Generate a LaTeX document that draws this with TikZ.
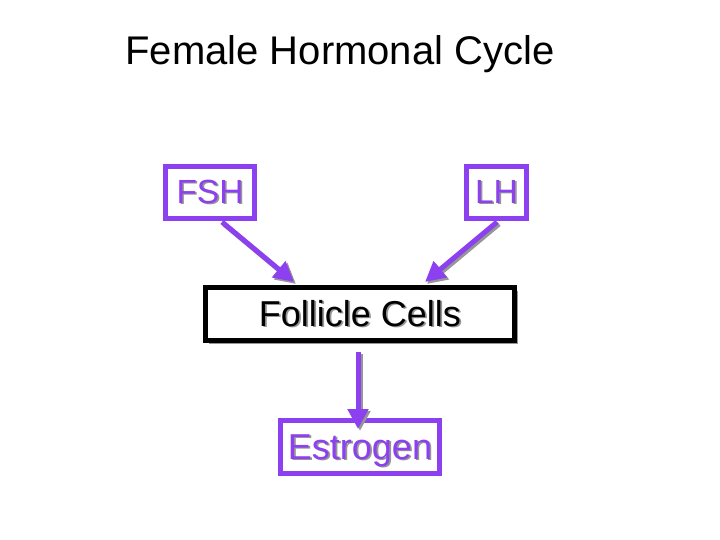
\documentclass[tikz,border=0pt]{standalone}
\usepackage{fontspec}
\setmainfont{Liberation Sans}
\usetikzlibrary{arrows.meta,shadows}
\definecolor{hpurple}{RGB}{140,64,240}
\definecolor{shade}{RGB}{150,150,150}
\newcommand{\shtext}[2]{\makebox[0pt][l]{\raisebox{-1.6pt}{\hspace{1.6pt}\color{shade}#2}}{\color{#1}#2}}
\tikzset{
  pbox/.style={draw=hpurple, line width=5pt, fill=white, inner sep=0pt},
  bbox/.style={draw=black, line width=5pt, fill=white, inner sep=0pt,
    drop shadow={shadow xshift=3pt, shadow yshift=-3pt, fill=shade, opacity=1}},
  smallf/.style={font=\fontsize{33.5}{33.5}\selectfont},
  bigf/.style={font=\fontsize{36}{36}\selectfont},
  parrow/.style={draw=hpurple, line width=5pt, -{Triangle[length=20pt,width=20pt]}},
  sharrow/.style={draw=shade, line width=5pt, -{Triangle[length=20pt,width=20pt]}},
}
\begin{document}
\begin{tikzpicture}[x=1pt,y=-1pt]
\useasboundingbox (0,0) rectangle (720,540);
\node[font=\fontsize{40}{40}\selectfont] (title) at (340,54) {Female Hormonal Cycle};
\node[pbox, smallf, minimum width=89pt, minimum height=52pt] (fsh) at (210,192.5) {\shtext{hpurple}{FSH}};
\node[pbox, smallf, minimum width=60pt, minimum height=52pt] (lh) at (496.5,192.5) {\shtext{hpurple}{LH}};
\node[bbox, bigf, minimum width=309pt, minimum height=53pt] (fc) at (360,314) {\shtext{black}{Follicle Cells}};
\node[pbox, bigf, text depth=0pt, minimum width=159pt, minimum height=53pt] (es) at (360,447) {\shtext{hpurple}{Estrogen}};
\coordinate (a1s) at (222,222);
\coordinate (a1e) at (294,282);
\coordinate (a2s) at (497,222);
\coordinate (a2e) at (425,282);
\coordinate (a3s) at (358,352);
\coordinate (a3e) at (358,429);
\foreach \s/\e in {a1s/a1e,a2s/a2e,a3s/a3e}{
  \draw[sharrow] ([shift={(2,2)}]\s) -- ([shift={(2,2)}]\e);
  \draw[parrow] (\s) -- (\e);
}
\end{tikzpicture}
\end{document}
